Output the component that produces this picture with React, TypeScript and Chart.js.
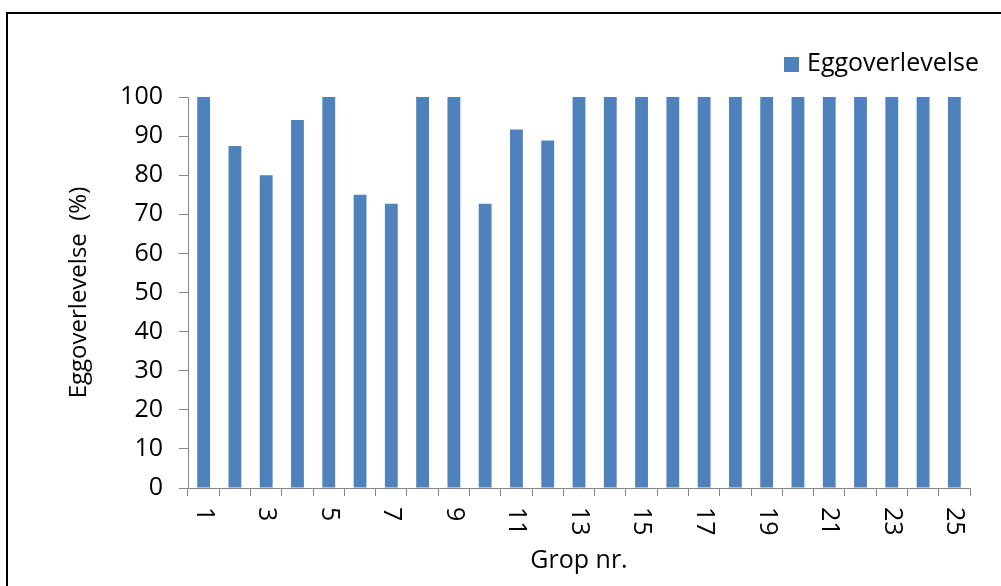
import React, { useEffect, useRef } from "react";
import { Chart, registerables } from "chart.js";

Chart.register(...registerables);

// Egg survival per group (%)
const groups: string[] = [
  "1", "2", "3", "4", "5", "6", "7", "8", "9", "10", "11", "12", "13",
  "14", "15", "16", "17", "18", "19", "20", "21", "22", "23", "24", "25",
];
const survival: number[] = [
  100, 87.5, 80, 94.1, 100, 75, 72.7, 100, 100, 72.7, 91.7, 88.9, 100,
  100, 100, 100, 100, 100, 100, 100, 100, 100, 100, 100, 100,
];
const seriesName = "Eggoverlevelse";
const yTitle = "Eggoverlevelse  (%)";
const xTitle = "Grop nr.";

const BAR_COLOR = "#4F81BD";
const AXIS_COLOR = "#868686";
const FONT = "'Open Sans', sans-serif";

// Category labels, every second one, rotated clockwise under the axis
const rotatedXLabels = {
  id: "rotatedXLabels",
  afterDraw(chart: any) {
    const { ctx } = chart;
    const xs = chart.scales.x;
    ctx.save();
    ctx.fillStyle = "#000";
    ctx.font = `25px ${FONT}`;
    ctx.textAlign = "left";
    ctx.textBaseline = "middle";
    groups.forEach((g, i) => {
      if (i % 2 !== 0) return;
      const x = xs.getPixelForValue(i);
      ctx.save();
      ctx.translate(x, xs.top + 19);
      ctx.rotate(Math.PI / 2);
      ctx.fillText(g, 0, 0);
      ctx.restore();
    });
    ctx.restore();
  },
};

// Legend entry in the top-right corner
const cornerLegend = {
  id: "cornerLegend",
  afterDraw(chart: any) {
    const { ctx } = chart;
    ctx.save();
    ctx.fillStyle = BAR_COLOR;
    ctx.fillRect(784, 57, 15, 15);
    ctx.fillStyle = "#000";
    ctx.font = `25px ${FONT}`;
    ctx.textAlign = "left";
    ctx.textBaseline = "middle";
    ctx.fillText(chart.data.datasets[0].label, 807, 64);
    ctx.restore();
  },
};

export default function App() {
  const canvasRef = useRef<HTMLCanvasElement | null>(null);

  useEffect(() => {
    const canvas = canvasRef.current;
    if (!canvas) return;
    const chart = new Chart(canvas, {
      type: "bar",
      data: {
        labels: groups,
        datasets: [
          {
            label: seriesName,
            data: survival,
            backgroundColor: BAR_COLOR,
            borderWidth: 0,
            barPercentage: 0.41,
            categoryPercentage: 1,
          },
        ],
      },
      options: {
        responsive: false,
        animation: false,
        devicePixelRatio: 1,
        layout: { padding: { left: 50, right: 31, top: 97, bottom: 0 } },
        plugins: {
          legend: { display: false },
          tooltip: { enabled: false },
        },
        scales: {
          x: {
            offset: true,
            grid: {
              offset: true,
              drawOnChartArea: false,
              drawTicks: true,
              tickLength: 8,
              color: AXIS_COLOR,
            },
            border: { color: AXIS_COLOR, width: 1 },
            ticks: { display: false },
            title: {
              display: true,
              text: xTitle,
              color: "#000",
              font: { family: FONT, size: 25 },
              padding: { top: 0, bottom: 10 },
            },
            afterFit(scale: any) {
              scale.height = 98;
            },
          },
          y: {
            min: 0,
            max: 100,
            ticks: {
              stepSize: 10,
              color: "#000",
              padding: 16,
              font: { family: FONT, size: 25 },
            },
            grid: {
              drawOnChartArea: false,
              drawTicks: true,
              tickLength: 9,
              color: AXIS_COLOR,
            },
            border: { color: AXIS_COLOR, width: 1 },
            title: {
              display: true,
              text: yTitle,
              color: "#000",
              font: { family: FONT, size: 24 },
              padding: { top: 15, bottom: 0 },
            },
            afterFit(scale: any) {
              scale.width = 138;
            },
          },
        },
      },
      plugins: [rotatedXLabels, cornerLegend],
    });
    return () => chart.destroy();
  }, []);

  return (
    <div
      style={{
        position: "fixed",
        left: 0,
        top: 0,
        width: 1001,
        height: 586,
        overflow: "hidden",
        background: "#fff",
      }}
    >
      <div
        style={{
          position: "absolute",
          left: 6,
          top: 12,
          width: 1200,
          height: 800,
          border: "2px solid #000",
        }}
      />
      <canvas
        ref={canvasRef}
        width={1001}
        height={586}
        style={{ position: "absolute", left: 0, top: 0, width: 1001, height: 586 }}
      />
    </div>
  );
}
